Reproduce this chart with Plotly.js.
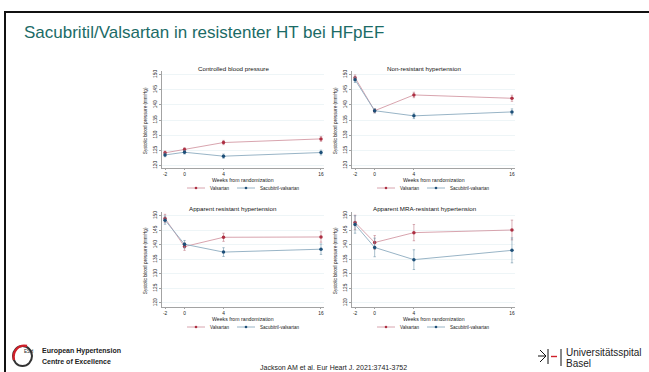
<!DOCTYPE html>
<html><head><meta charset="utf-8">
<script src="https://cdn.plot.ly/plotly-3.0.1.min.js"></script>
<style>html,body{margin:0;padding:0;background:#fff;} #chart{width:649px;height:372px;}</style>
</head><body><div id="chart"></div>
<script>
// ---------- data ----------
const weeks = [-2, 0, 4, 16];
const yTicks = [120, 125, 130, 135, 140, 145, 150];
const panelTitles = ['Controlled blood pressure', 'Non-resistant hypertension',
  'Apparent resistant hypertension', 'Apparent MRA-resistant hypertension'];
const seriesNames = ['Valsartan', 'Sacubitril-valsartan'];

const ctrlVal = [124.2, 125.3, 127.6, 128.8];
const ctrlValErr = [0.6, 0.6, 0.7, 0.8];
const ctrlSac = [123.5, 124.4, 123.1, 124.3];
const ctrlSacErr = [0.6, 0.6, 0.7, 0.8];

const nonresVal = [149.0, 138.1, 143.3, 142.2];
const nonresValErr = [0.9, 0.7, 0.9, 1.0];
const nonresSac = [148.3, 138.1, 136.4, 137.7];
const nonresSacErr = [0.9, 0.7, 0.9, 1.0];

const appVal = [149.1, 139.4, 142.6, 142.7];
const appValErr = [1.4, 1.3, 1.4, 1.8];
const appSac = [148.5, 140.2, 137.5, 138.5];
const appSacErr = [1.4, 1.3, 1.5, 1.8];

const mraVal = [147.7, 140.8, 144.2, 145.1];
const mraValErr = [2.5, 2.4, 2.8, 3.4];
const mraSac = [147.0, 139.1, 134.9, 138.1];
const mraSacErr = [3.0, 3.2, 3.4, 4.3];

const slideTitle = 'Sacubritil/Valsartan in resistenter HT bei HFpEF';
const yTitle = 'Systolic blood pressure (mmHg)';
const xTitle = 'Weeks from randomization';
const citation = 'Jackson AM et al. Eur Heart J. 2021:3741-3752';

// ---------- layout helpers ----------
const W = 649, H = 372;
const px = x => x / W;
const py = y => 1 - y / H;
// the source axis compresses the 4→16 week span
const weekPos = w => (w <= 4 ? w : 4 + (w - 4) * 10 / 12);

const valCol = {marker: '#ad2f42', line: '#d49aa5', err: '#c07a86'};
const sacCol = {marker: '#1d4f78', line: '#8cabc0', err: '#6f93aa'};
const FONT = 'Liberation Sans, Arial, sans-serif';

const panels = [
  {val: ctrlVal, valErr: ctrlValErr, sac: ctrlSac, sacErr: ctrlSacErr, xl: 162, xr: 324, yt: 71, yb: 168, yr: [119.2, 151.2]},
  {val: nonresVal, valErr: nonresValErr, sac: nonresSac, sacErr: nonresSacErr, xl: 352, xr: 515, yt: 71, yb: 168, yr: [119.2, 151.2]},
  {val: appVal, valErr: appValErr, sac: appSac, sacErr: appSacErr, xl: 162, xr: 324, yt: 212, yb: 307, yr: [118.6, 151.3]},
  {val: mraVal, valErr: mraValErr, sac: mraSac, sacErr: mraSacErr, xl: 352, xr: 515, yt: 212, yb: 307, yr: [118.6, 151.3]}
];

const traces = [];
const layout = {
  width: W, height: H, margin: {l: 0, r: 0, t: 0, b: 0},
  paper_bgcolor: '#fff', plot_bgcolor: '#fff', showlegend: false,
  font: {family: FONT, color: '#222'},
  annotations: [], shapes: []
};

panels.forEach((p, i) => {
  const n = i === 0 ? '' : String(i + 1);
  const xa = 'x' + n, ya = 'y' + n;
  const xs = weeks.map(weekPos);
  [[p.val, p.valErr, valCol, seriesNames[0]], [p.sac, p.sacErr, sacCol, seriesNames[1]]].forEach(([v, e, c, name]) => {
    traces.push({
      type: 'scatter', mode: 'lines+markers', name: name, x: xs, y: v, xaxis: xa, yaxis: ya,
      line: {color: c.line, width: 0.9},
      marker: {color: c.marker, size: 3.5, symbol: 'circle'},
      error_y: {type: 'data', array: e, visible: true, color: c.err, thickness: 0.6, width: 1.2},
      cliponaxis: false
    });
  });
  layout['xaxis' + n] = {
    domain: [px(p.xl), px(p.xr)], anchor: ya, range: [-2.31, 14.31],
    tickvals: xs, ticktext: weeks.map(String), ticks: 'outside', ticklen: 1.5, tickwidth: 0.5, tickcolor: '#444',
    showline: true, linecolor: '#666', linewidth: 0.6, showgrid: false, zeroline: false,
    tickfont: {size: 4.8, color: '#222', family: FONT}, fixedrange: true
  };
  layout['yaxis' + n] = {
    domain: [py(p.yb), py(p.yt)], anchor: xa, range: p.yr,
    tickvals: yTicks, ticktext: yTicks.map(String), tickangle: -90, ticks: 'outside', ticklen: 2, tickwidth: 0.5, tickcolor: '#444',
    showline: true, linecolor: '#666', linewidth: 0.6, showgrid: true, gridcolor: '#e3eef1', gridwidth: 0.6, zeroline: false,
    tickfont: {size: 4.8, color: '#222', family: FONT}, fixedrange: true
  };
  const left = p.xl === 162;
  const cx = left ? 233.5 : 424.7;
  // panel title
  layout.annotations.push({text: panelTitles[i], x: px(cx), y: py(p.yt - 3), xref: 'paper', yref: 'paper',
    showarrow: false, xanchor: 'center', yanchor: 'middle', font: {size: 6.2, color: '#111', family: FONT}});
  // y axis title
  layout.annotations.push({text: yTitle, x: px(left ? 145.7 : 335.7), y: py((p.yt + p.yb) / 2 + 1), xref: 'paper', yref: 'paper',
    showarrow: false, textangle: -90, xanchor: 'center', yanchor: 'middle', font: {size: 4.7, color: '#222', family: FONT}});
  // x axis title
  layout.annotations.push({text: xTitle, x: px(left ? 243 : 434), y: py(p.yb + 11.5), xref: 'paper', yref: 'paper',
    showarrow: false, xanchor: 'center', yanchor: 'middle', font: {size: 5.2, color: '#222', family: FONT}});
  // legend (drawn as decoration)
  const off = left ? 0 : 190;
  const ly = p.yb + 20;
  [[187, 205, 208, valCol, seriesNames[0]], [237, 255, 258, sacCol, seriesNames[1]]].forEach(([a, b, t, c, name]) => {
    layout.shapes.push({type: 'line', xref: 'paper', yref: 'paper', x0: px(a + off), x1: px(b + off), y0: py(ly), y1: py(ly),
      line: {color: c.line, width: 0.9}});
    const m = (a + b) / 2 + off;
    layout.shapes.push({type: 'circle', xref: 'paper', yref: 'paper', x0: px(m - 1.3), x1: px(m + 1.3), y0: py(ly - 1.3), y1: py(ly + 1.3),
      fillcolor: c.marker, line: {width: 0}});
    layout.annotations.push({text: name, x: px(t + off), y: py(ly), xref: 'paper', yref: 'paper', showarrow: false,
      xanchor: 'left', yanchor: 'middle', font: {size: 4.6, color: '#222', family: FONT}});
  });
});

// slide frame
layout.shapes.push({type: 'line', xref: 'paper', yref: 'paper', x0: px(5), x1: px(5), y0: py(11), y1: py(372), line: {color: '#111', width: 2}});
layout.shapes.push({type: 'line', xref: 'paper', yref: 'paper', x0: px(4), x1: px(649), y0: py(12), y1: py(12), line: {color: '#111', width: 2}});

// slide title
layout.annotations.push({text: slideTitle, x: px(22), y: py(32), xref: 'paper', yref: 'paper', showarrow: false,
  xanchor: 'left', yanchor: 'middle', font: {size: 17, color: '#1b6b66', family: FONT}});

// ESH logo + text
layout.shapes.push({type: 'circle', xref: 'paper', yref: 'paper', x0: px(13), x1: px(32), y0: py(346), y1: py(366),
  line: {color: '#333', width: 2}});
layout.shapes.push({type: 'path', xref: 'paper', yref: 'paper',
  path: `M ${px(14)},${py(360)} C ${px(12)},${py(352)} ${px(18)},${py(344)} ${px(27)},${py(346)}`,
  line: {color: '#d0202a', width: 2.4}});
layout.annotations.push({text: 'ESH', x: px(22.5), y: py(356), xref: 'paper', yref: 'paper', showarrow: false,
  font: {size: 4.5, color: '#222', family: FONT}});
layout.annotations.push({text: '<b>European Hypertension</b>', x: px(40), y: py(351), xref: 'paper', yref: 'paper', showarrow: false,
  xanchor: 'left', yanchor: 'middle', font: {size: 7, color: '#222', family: FONT}});
layout.annotations.push({text: '<b>Centre of Excellence</b>', x: px(40), y: py(361), xref: 'paper', yref: 'paper', showarrow: false,
  xanchor: 'left', yanchor: 'middle', font: {size: 7, color: '#222', family: FONT}});

// citation
layout.annotations.push({text: citation, x: px(333), y: py(367), xref: 'paper', yref: 'paper', showarrow: false,
  xanchor: 'center', yanchor: 'middle', font: {size: 7, color: '#222', family: FONT}});

// Universitätsspital Basel logo
layout.shapes.push({type: 'path', xref: 'paper', yref: 'paper',
  path: `M ${px(540)},${py(350)} L ${px(546)},${py(356)} L ${px(540)},${py(362)} M ${px(538)},${py(356)} L ${px(546)},${py(356)}`,
  line: {color: '#111', width: 1}});
layout.shapes.push({type: 'line', xref: 'paper', yref: 'paper', x0: px(548), x1: px(548), y0: py(349), y1: py(364), line: {color: '#111', width: 1}});
layout.shapes.push({type: 'line', xref: 'paper', yref: 'paper', x0: px(551), x1: px(557), y0: py(356.5), y1: py(356.5), line: {color: '#d0202a', width: 1.4}});
layout.shapes.push({type: 'line', xref: 'paper', yref: 'paper', x0: px(561), x1: px(561), y0: py(349), y1: py(366), line: {color: '#111', width: 1}});
layout.annotations.push({text: 'Universitätsspital', x: px(564), y: py(352.5), xref: 'paper', yref: 'paper', showarrow: false,
  xanchor: 'left', yanchor: 'middle', font: {size: 10, color: '#222', family: FONT}});
layout.annotations.push({text: 'Basel', x: px(564), y: py(363), xref: 'paper', yref: 'paper', showarrow: false,
  xanchor: 'left', yanchor: 'middle', font: {size: 10, color: '#222', family: FONT}});

Plotly.newPlot('chart', traces, layout, {staticPlot: true, displayModeBar: false});
</script>
</body></html>
